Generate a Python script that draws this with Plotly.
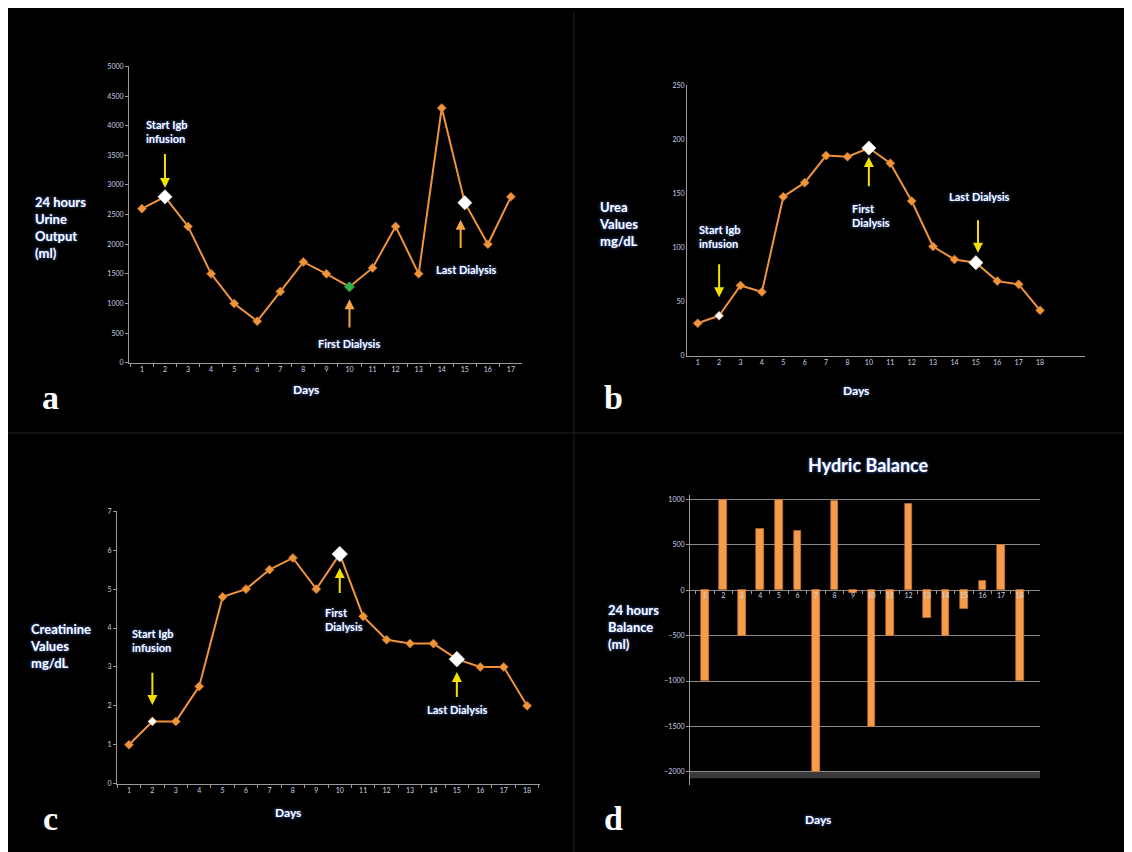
import plotly.graph_objects as go

# ---------------- data ----------------
# Panel a: 24 hours urine output (ml)
urine_days = list(range(1, 18))
urine_ml = [2600, 2800, 2300, 1500, 1000, 700, 1200, 1700, 1500, 1280,
            1600, 2300, 1500, 4300, 2700, 2000, 2800]
urine_white_days = [2, 15]
urine_green_days = [10]
urine_yticks = list(range(0, 5001, 500))

# Panel b: urea (mg/dL) - day 9 missing on the axis
urea_day_labels = ["1", "2", "3", "4", "5", "6", "7", "8", "10", "11",
                   "12", "13", "14", "15", "16", "17", "18"]
urea_mgdl = [30, 37, 65, 59, 147, 160, 185, 184, 192, 178, 143, 101, 89,
             86, 69, 66, 42]
urea_white_small = ["2"]
urea_white_big = ["10", "15"]
urea_yticks = [0, 50, 100, 150, 200, 250]

# Panel c: creatinine (mg/dL)
creat_days = list(range(1, 19))
creat_mgdl = [1.0, 1.6, 1.6, 2.5, 4.8, 5.0, 5.5, 5.8, 5.0, 5.9, 4.3, 3.7,
              3.6, 3.6, 3.2, 3.0, 3.0, 2.0]
creat_white_small = [2]
creat_white_big = [10, 15]
creat_yticks = list(range(0, 8))

# Panel d: hydric balance (ml)
balance_days = list(range(1, 19))
balance_ml = [-1000, 1000, -500, 680, 990, 650, -2000, 980, -30, -1500,
              -500, 950, -300, -500, -200, 100, 500, -1000]
balance_yticks = [1000, 500, 0, -500, -1000, -1500, -2000]

# ---------------- style ----------------
W, H = 1132, 852
OFF = 8  # browser body margin


def PX(px):
    return (px - OFF) / W


def PY(py):
    return 1 - (py - OFF) / H


ORANGE = "#F0943C"
ORANGE_EDGE = "#B8661E"
YELLOW = "#F2E000"
ORANGE_ARROW = "#F5A443"
AXC = "#9a9a9a"
TICKC = "#c9d3e6"
FONT = "Lato"
GLOW = "0px 0px 3px #4a7dff"

fig = go.Figure()


def line_trace(x, y, xa, ya):
    return go.Scatter(x=x, y=y, mode="lines+markers", xaxis=xa, yaxis=ya,
                      line=dict(color=ORANGE, width=2),
                      marker=dict(symbol="diamond", size=7, color=ORANGE,
                                  line=dict(color=ORANGE_EDGE, width=0.6)),
                      hoverinfo="x+y", showlegend=False)


def hi_trace(x, y, xa, ya, color, size):
    return go.Scatter(x=x, y=y, mode="markers", xaxis=xa, yaxis=ya,
                      marker=dict(symbol="diamond", size=size, color=color,
                                  line=dict(color="#e8e8e8", width=0.6)),
                      hoverinfo="x+y", showlegend=False)


# a
fig.add_trace(line_trace(urine_days, urine_ml, "x", "y"))
fig.add_trace(hi_trace(urine_white_days,
                       [urine_ml[urine_days.index(d)] for d in urine_white_days],
                       "x", "y", "white", 11))
fig.add_trace(go.Scatter(x=urine_green_days,
                         y=[urine_ml[urine_days.index(d)] for d in urine_green_days],
                         mode="markers", xaxis="x", yaxis="y",
                         marker=dict(symbol="diamond", size=8, color="#2fb24c",
                                     line=dict(color="#1d7a33", width=0.6)),
                         showlegend=False))

# b
urea_idx = list(range(len(urea_day_labels)))
fig.add_trace(line_trace(urea_idx, urea_mgdl, "x2", "y2"))
fig.add_trace(hi_trace([urea_day_labels.index(d) for d in urea_white_small],
                       [urea_mgdl[urea_day_labels.index(d)] for d in urea_white_small],
                       "x2", "y2", "white", 6))
fig.add_trace(hi_trace([urea_day_labels.index(d) for d in urea_white_big],
                       [urea_mgdl[urea_day_labels.index(d)] for d in urea_white_big],
                       "x2", "y2", "white", 11))

# c
fig.add_trace(line_trace(creat_days, creat_mgdl, "x3", "y3"))
fig.add_trace(hi_trace(creat_white_small,
                       [creat_mgdl[creat_days.index(d)] for d in creat_white_small],
                       "x3", "y3", "white", 6))
fig.add_trace(hi_trace(creat_white_big,
                       [creat_mgdl[creat_days.index(d)] for d in creat_white_big],
                       "x3", "y3", "white", 12))

# d
fig.add_trace(go.Bar(x=balance_days, y=balance_ml, xaxis="x4", yaxis="y4",
                     width=0.42, marker=dict(color="#F59C4A",
                                             line=dict(color="#C8752F", width=0.6)),
                     showlegend=False))

tickfont = dict(family=FONT, size=7, color=TICKC)

common_x = dict(showgrid=False, zeroline=False, showline=True, linecolor=AXC,
                linewidth=1, tickfont=tickfont, ticks="", fixedrange=True)
common_y = dict(showgrid=False, zeroline=False, showline=True, linecolor=AXC,
                linewidth=1, tickfont=tickfont, ticks="outside", ticklen=3,
                tickcolor=AXC, fixedrange=True)

# domains
dom_a = ([PX(129), PX(522)], [PY(361), PY(62)])
dom_b = ([PX(687), PX(1085)], [PY(354), PY(81)])
dom_c = ([PX(117), PX(540)], [PY(786), PY(511)])
d_range = [-2150, 1050]
dom_d = ([PX(690), PX(1040)], [PY(787.8), PY(494.4)])
zero_pos_d = dom_d[1][0] + (0 - d_range[0]) / (d_range[1] - d_range[0]) * (dom_d[1][1] - dom_d[1][0])

fig.update_layout(
    width=W, height=H,
    margin=dict(l=0, r=0, t=0, b=0),
    paper_bgcolor="black", plot_bgcolor="black",
    showlegend=False,
    bargap=0,
    xaxis=dict(common_x, domain=dom_a[0], anchor="y", range=[0.44, 17.48],
               tickmode="array", tickvals=urine_days,
               ticktext=[str(d) for d in urine_days],
               minor=dict(ticks="outside", tick0=0.5, dtick=1, ticklen=3,
                          tickcolor=AXC)),
    yaxis=dict(common_y, domain=dom_a[1], anchor="x", range=[0, 5000],
               tickmode="array", tickvals=urine_yticks),
    xaxis2=dict(common_x, domain=dom_b[0], anchor="y2", range=[-0.5, 18.1],
                tickmode="array", tickvals=urea_idx, ticktext=urea_day_labels),
    yaxis2=dict(common_y, domain=dom_b[1], anchor="x2", range=[0, 250],
                tickmode="array", tickvals=urea_yticks, ticks=""),
    xaxis3=dict(common_x, domain=dom_c[0], anchor="y3", range=[0.49, 18.55],
                tickmode="array", tickvals=creat_days,
                ticktext=[str(d) for d in creat_days],
                minor=dict(ticks="outside", tick0=0.5, dtick=1, ticklen=3,
                           tickcolor=AXC)),
    yaxis3=dict(common_y, domain=dom_c[1], anchor="x3", range=[0, 7],
                tickmode="array", tickvals=creat_yticks),
    xaxis4=dict(common_x, domain=dom_d[0], anchor="free", position=zero_pos_d,
                showline=False, range=[0.2, 19.1],
                tickmode="array", tickvals=balance_days,
                ticktext=[str(d) for d in balance_days],
                minor=dict(ticks="outside", tick0=0.5, dtick=1, ticklen=3,
                           tickcolor=AXC)),
    yaxis4=dict(common_y, domain=dom_d[1], anchor="x4", range=d_range,
                tickmode="array", tickvals=balance_yticks,
                showgrid=True, gridcolor="#8a8a8a", gridwidth=1,
                zeroline=True, zerolinecolor="#8a8a8a", zerolinewidth=1),
)

shapes = [
    dict(type="line", xref="paper", yref="paper", x0=PX(574), x1=PX(574),
         y0=0, y1=1, line=dict(color="#222222", width=1)),
    dict(type="line", xref="paper", yref="paper", x0=0, x1=1,
         y0=PY(432), y1=PY(432), line=dict(color="#222222", width=1)),
    dict(type="rect", xref="x4", yref="y4", x0=0.2, x1=19.1, y0=-2000, y1=-2070,
         fillcolor="#3a3a3a", line=dict(width=0), layer="below"),
]
fig.update_layout(shapes=shapes)

ann = []


def txt(text, x, y, xref, yref, size=11, xanchor="center", align="center",
        family=FONT, color="white", shadow=GLOW):
    ann.append(dict(text=text, x=x, y=y, xref=xref, yref=yref, showarrow=False,
                    xanchor=xanchor, yanchor="middle", align=align,
                    font=dict(family=family, size=size, color=color, shadow=shadow)))


def arrow(x, y_head, y_tail, xref, yref, color):
    ann.append(dict(text="", x=x, y=y_head, ax=x, ay=y_tail, xref=xref, yref=yref,
                    axref=xref, ayref=yref, showarrow=True, arrowhead=2,
                    arrowsize=1, arrowwidth=2, arrowcolor=color, standoff=0))


# panel labels / axis titles
txt("<b>24 hours<br>Urine<br>Output<br>(ml)</b>", PX(33), PY(225), "paper", "paper",
    size=13, xanchor="left", align="left")
txt("<b>Urea<br>Values<br>mg/dL</b>", PX(597), PY(220.5), "paper", "paper",
    size=13, xanchor="left", align="left")
txt("<b>Creatinine<br>Values<br>mg/dL</b>", PX(28), PY(647), "paper", "paper",
    size=13, xanchor="left", align="left")
txt("<b>24 hours<br>Balance<br>(ml)</b>", PX(606), PY(628), "paper", "paper",
    size=13, xanchor="left", align="left")
for (xx, yy) in [(306, 388), (856, 389), (288, 815), (818, 822)]:
    txt("<b>Days</b>", PX(xx), PY(yy), "paper", "paper", size=12)
for lab, xx, yy in [("a", 50, 396), ("b", 613, 396), ("c", 50, 821), ("d", 613, 821)]:
    txt("<b>%s</b>" % lab, PX(xx), PY(yy), "paper", "paper", size=34,
        family="Liberation Serif", shadow="none")
txt("<b>Hydric Balance</b>", PX(868), PY(464), "paper", "paper", size=18)

# panel a notes
txt("<b>Start Igb<br>infusion</b>", 1.08, 3900, "x", "y", xanchor="left", align="left")
arrow(2, 2950, 3550, "x", "y", YELLOW)
txt("<b>First Dialysis</b>", 10, 318, "x", "y")
arrow(10, 1070, 568, "x", "y", ORANGE_ARROW)
txt("<b>Last Dialysis</b>", 15.08, 1572, "x", "y")
arrow(14.82, 2413, 1911, "x", "y", ORANGE_ARROW)

# panel b notes
txt("<b>Start Igb<br>infusion</b>", -0.02, 110, "x2", "y2", xanchor="left", align="left")
arrow(1, 54, 86, "x2", "y2", YELLOW)
txt("<b>First<br>Dialysis</b>", 7.1, 129.6, "x2", "y2", xanchor="left", align="left")
arrow(8, 183.8, 155.4, "x2", "y2", YELLOW)
txt("<b>Last Dialysis</b>", 13.18, 146.8, "x2", "y2")
arrow(13.1, 95.2, 126.6, "x2", "y2", YELLOW)

# panel c notes
txt("<b>Start Igb<br>infusion</b>", 1.04, 3.67, "x3", "y3", xanchor="left", align="left")
arrow(2, 2.02, 2.89, "x3", "y3", YELLOW)
txt("<b>First<br>Dialysis</b>", 9.28, 4.21, "x3", "y3", xanchor="left", align="left")
arrow(10, 5.54, 4.86, "x3", "y3", YELLOW)
txt("<b>Last Dialysis</b>", 15.03, 1.91, "x3", "y3")
arrow(15, 2.87, 2.19, "x3", "y3", YELLOW)

fig.update_layout(annotations=ann)

fig.write_html("out.html")
